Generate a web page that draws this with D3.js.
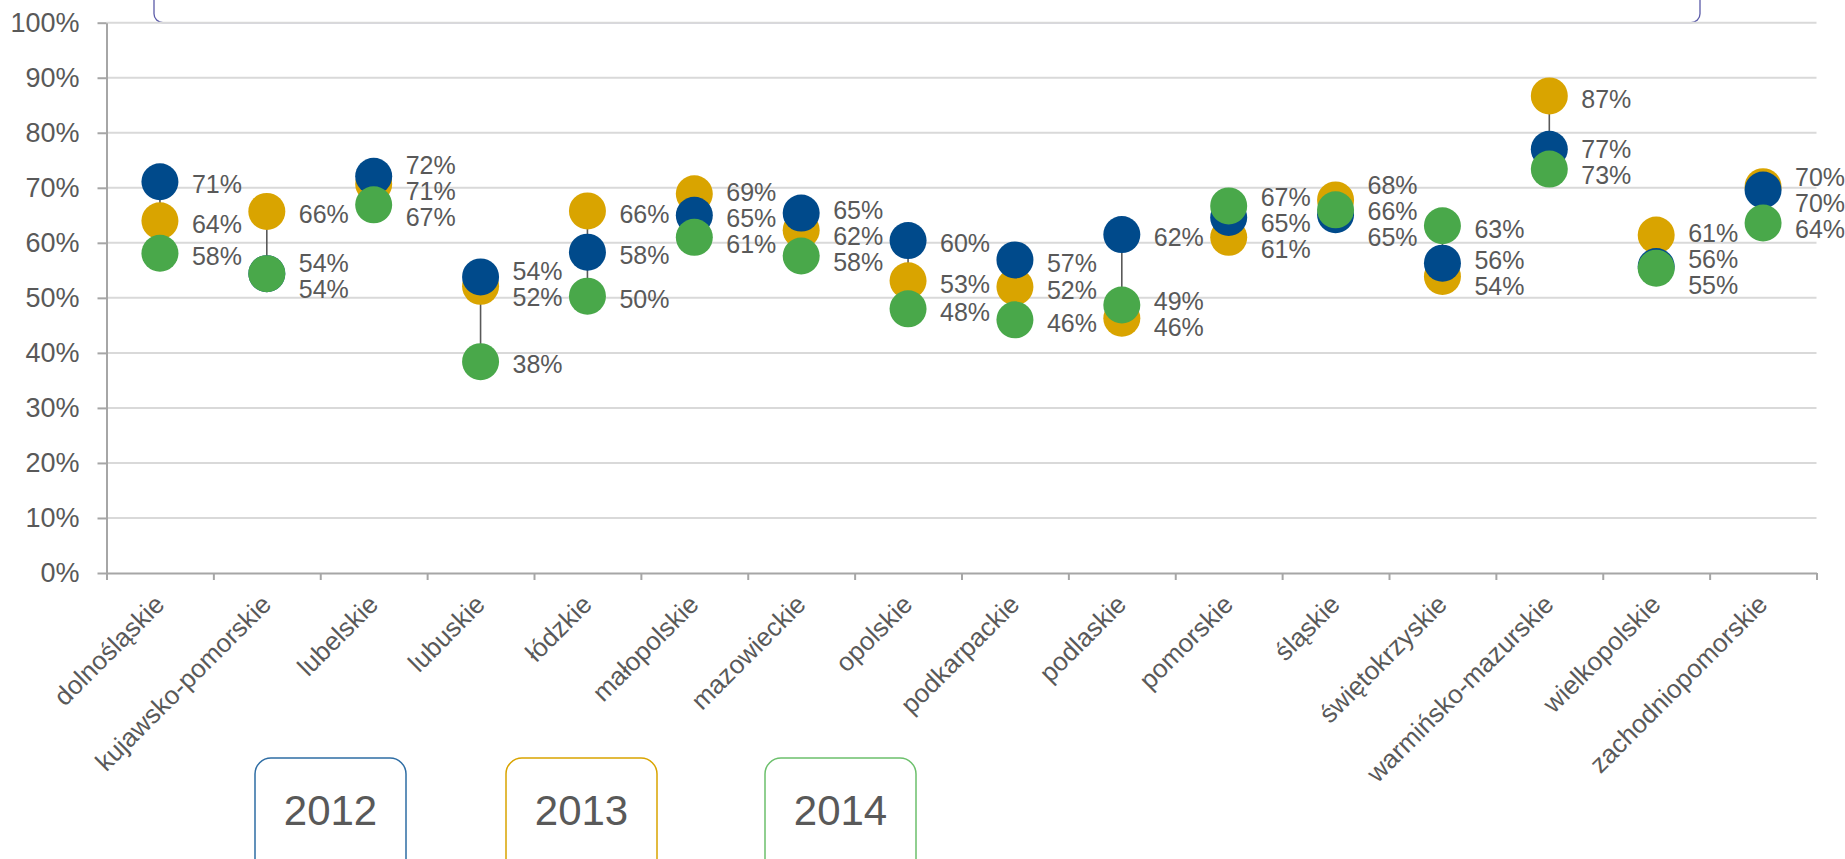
<!DOCTYPE html>
<html lang="pl">
<head>
<meta charset="utf-8">
<script src="https://cdn.jsdelivr.net/npm/d3@7"></script>
<style>
  html, body { margin: 0; padding: 0; background: #ffffff; }
  svg { display: block; font-family: "Liberation Sans", Arial, sans-serif; }
</style>
</head>
<body>
<svg id="chart" width="1845" height="859"></svg>
<script>
// Voivodeships on the category axis
const categories = [
  "dolnośląskie", "kujawsko-pomorskie", "lubelskie", "lubuskie", "łódzkie",
  "małopolskie", "mazowieckie", "opolskie", "podkarpackie", "podlaskie",
  "pomorskie", "śląskie", "świętokrzyskie", "warmińsko-mazurskie",
  "wielkopolskie", "zachodniopomorskie"
];

// Share per voivodeship, one array per year
const values2012 = [0.711, 0.544, 0.721, 0.538, 0.583, 0.650, 0.654, 0.604,
                    0.569, 0.615, 0.646, 0.651, 0.563, 0.770, 0.557, 0.696];
const values2013 = [0.640, 0.657, 0.707, 0.521, 0.658, 0.689, 0.623, 0.531,
                    0.520, 0.463, 0.610, 0.678, 0.539, 0.867, 0.614, 0.702];
const values2014 = [0.581, 0.544, 0.669, 0.384, 0.503, 0.610, 0.576, 0.480,
                    0.460, 0.487, 0.667, 0.660, 0.631, 0.734, 0.554, 0.636];

const years = ["2012", "2013", "2014"];
const yTicks = [0, 0.1, 0.2, 0.3, 0.4, 0.5, 0.6, 0.7, 0.8, 0.9, 1.0];

// Series, listed in the order they are stacked (last on top)
const series = [
  { year: "2013", values: values2013, color: "#d9a400" },
  { year: "2012", values: values2012, color: "#004a8b" },
  { year: "2014", values: values2014, color: "#49a84a" }
];
const legendStroke = { "2012": "#2e6da4", "2013": "#d9a400", "2014": "#6cc06c" };

const svg = d3.select("#chart");
const textColor = "#595959";
const fmt = d3.format(".0%");

const plotLeft = 106.5, plotRight = 1816.5, plotTop = 22.7, plotBottom = 573;
const x = d3.scaleBand().domain(categories).range([plotLeft, plotRight]).padding(0);
const xEdge = d3.scaleLinear().domain([0, categories.length]).range([plotLeft, plotRight]);
const y = d3.scaleLinear().domain([0, 1]).range([plotBottom, plotTop]);
const cx = c => x(c) + x.bandwidth() / 2;

// Frame of the heading panel above the plot
svg.append("rect")
  .attr("x", 154).attr("y", -40)
  .attr("width", 1700 - 154).attr("height", 40 + plotTop)
  .attr("rx", 9).attr("ry", 9)
  .attr("fill", "none")
  .attr("stroke", "#5b5ba8").attr("stroke-width", 1.3);

// Horizontal gridlines
svg.append("g")
  .selectAll("line")
  .data(yTicks.filter(d => d > 0))
  .join("line")
  .attr("x1", plotLeft).attr("x2", plotRight)
  .attr("y1", d => y(d)).attr("y2", d => y(d))
  .attr("stroke", "#d9d9d9").attr("stroke-width", 2);

// Y axis
const yAxis = svg.append("g")
  .attr("transform", `translate(${plotLeft},0)`)
  .call(d3.axisLeft(y).tickValues(yTicks).tickFormat(fmt)
    .tickSizeInner(9).tickSizeOuter(0).tickPadding(18));
yAxis.select(".domain").attr("stroke", "#a6a6a6").attr("stroke-width", 2);
yAxis.selectAll(".tick line").attr("stroke", "#a6a6a6").attr("stroke-width", 2);
yAxis.selectAll(".tick text")
  .attr("fill", textColor).attr("font-size", 27);

// X axis: boundary ticks
const xTicks = svg.append("g")
  .attr("transform", `translate(0,${plotBottom})`)
  .call(d3.axisBottom(xEdge).tickValues(d3.range(categories.length + 1))
    .tickFormat("").tickSizeInner(7).tickSizeOuter(0));
xTicks.select(".domain").attr("stroke", "#a6a6a6").attr("stroke-width", 2);
xTicks.selectAll(".tick line").attr("stroke", "#a6a6a6").attr("stroke-width", 2);

// X axis: rotated category names
const xLabels = svg.append("g")
  .attr("transform", `translate(0,${plotBottom})`)
  .call(d3.axisBottom(x).tickSize(0).tickPadding(0));
xLabels.select(".domain").remove();
xLabels.selectAll(".tick text")
  .attr("x", 0).attr("y", 0).attr("dy", 0)
  .attr("text-anchor", "end")
  .attr("transform", "translate(6,33) rotate(-45)")
  .attr("fill", textColor).attr("font-size", 26);

// High-low connector per voivodeship
svg.append("g")
  .selectAll("line")
  .data(categories.map((c, i) => {
    const vs = series.map(s => s.values[i]);
    return { c, lo: d3.min(vs), hi: d3.max(vs) };
  }))
  .join("line")
  .attr("x1", d => cx(d.c)).attr("x2", d => cx(d.c))
  .attr("y1", d => y(d.hi)).attr("y2", d => y(d.lo))
  .attr("stroke", "#595959").attr("stroke-width", 1.6);

// Markers
const r = 18.5;
series.forEach(s => {
  svg.append("g")
    .selectAll("circle")
    .data(categories.map((c, i) => ({ c, v: s.values[i] })))
    .join("circle")
    .attr("cx", d => cx(d.c)).attr("cy", d => y(d.v))
    .attr("r", r)
    .attr("fill", s.color);
});

// Value labels to the right of each marker, spread apart vertically
const minGap = 26;
const labelData = [];
categories.forEach((c, i) => {
  const items = series.map(s => ({ c, v: s.values[i], y0: y(s.values[i]) }))
    .sort((a, b) => a.y0 - b.y0);
  const clusters = items.map(it => ({ members: [it] }));
  const place = cl => {
    const mean = d3.mean(cl.members, m => m.y0);
    const n = cl.members.length;
    cl.members.forEach((m, k) => { m.y = mean + (k - (n - 1) / 2) * minGap; });
  };
  clusters.forEach(place);
  let merged = true;
  while (merged) {
    merged = false;
    for (let k = 0; k < clusters.length - 1; k++) {
      const a = clusters[k], b = clusters[k + 1];
      const aLast = a.members[a.members.length - 1].y;
      const bFirst = b.members[0].y;
      if (bFirst - aLast < minGap) {
        const cl = { members: a.members.concat(b.members) };
        place(cl);
        clusters.splice(k, 2, cl);
        merged = true;
        break;
      }
    }
  }
  items.forEach(it => labelData.push(it));
});

svg.append("g")
  .selectAll("text")
  .data(labelData)
  .join("text")
  .attr("x", d => cx(d.c) + 32)
  .attr("y", d => d.y + 3)
  .attr("dy", "0.35em")
  .attr("fill", textColor)
  .attr("font-size", 25)
  .text(d => fmt(d.v));

// Year legend boxes
const legendX = { "2012": 255, "2013": 506, "2014": 765 };
const legend = svg.append("g")
  .selectAll("g")
  .data(years)
  .join("g")
  .attr("transform", d => `translate(${legendX[d]},758)`);
legend.append("rect")
  .attr("width", 151).attr("height", 140)
  .attr("rx", 16).attr("ry", 16)
  .attr("fill", "#ffffff")
  .attr("stroke", d => legendStroke[d]).attr("stroke-width", 1.5);
legend.append("text")
  .attr("x", 75.5).attr("y", 67)
  .attr("text-anchor", "middle")
  .attr("fill", textColor)
  .attr("font-size", 42)
  .text(d => d);
</script>
</body>
</html>
